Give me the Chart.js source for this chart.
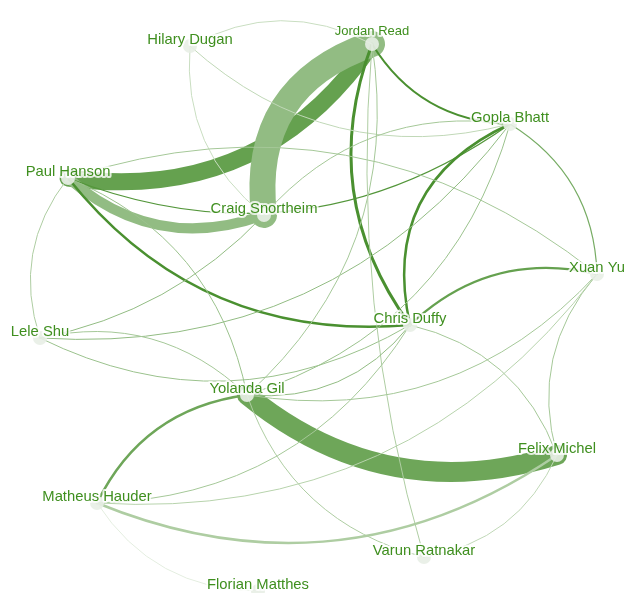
<!DOCTYPE html>
<html>
<head>
<meta charset="utf-8">
<script src="https://cdn.jsdelivr.net/npm/chart.js@4"></script>
<style>
  body { margin: 0; background: #fff; }
</style>
</head>
<body>
<canvas id="coauthorGraph" width="631" height="593"></canvas>
<script>
// people and where they sit
const names = ['Jordan Read', 'Hilary Dugan', 'Gopla Bhatt', 'Paul Hanson', 'Craig Snortheim', 'Xuan Yu',
  'Lele Shu', 'Chris Duffy', 'Yolanda Gil', 'Felix Michel', 'Matheus Hauder', 'Varun Ratnakar', 'Florian Matthes'];
const nodeX = [372, 190, 510, 68, 264, 597, 40, 410, 247, 557, 97, 424, 258];
const nodeY = [44, 46, 124, 178, 215, 274, 338, 325, 395, 455, 503, 557, 591];

// links: from, to, weight, strength (0..1)
const edgeFrom   = [3, 4, 3, 8, 3, 10, 10, 10, 3, 0, 2, 0, 7, 2, 1, 1, 1, 3, 3, 3, 4, 6, 6, 6, 0, 0, 4, 8, 8, 8, 7, 5, 9, 8, 10, 7];
const edgeTo     = [0, 0, 4, 9, 2, 8, 9, 12, 7, 7, 7, 2, 5, 5, 0, 4, 2, 5, 6, 8, 6, 2, 8, 7, 8, 11, 2, 7, 2, 5, 9, 9, 11, 11, 5, 10];
const edgeWeight = [17, 26, 10, 20, 1.3, 2.5, 2.5, 1, 2.5, 3, 2.5, 2, 2.2, 1.2, 1, 1, 1, 1, 1, 1, 1, 1, 1, 1, 1, 1, 1, 1, 1, 1, 1, 1, 1, 1, 1, 1];
const edgeShade  = [0.85, 0.6, 0.6, 0.8, 0.95, 0.8, 0.45, 0.15, 1, 1, 1, 1, 0.85, 0.75, 0.3, 0.3, 0.35, 0.5, 0.45, 0.55, 0.6, 0.6, 0.5, 0.55, 0.5, 0.45, 0.5, 0.6, 0.55, 0.5, 0.5, 0.5, 0.35, 0.45, 0.4, 0.5];
const edgeBend   = [1.15, -1.5, 1.1, 1, 1, -1, 1, 1, 1, 1, 1.5, 1, -1, -1, -1, 1, 1, -1, 1, -1, -0.6, 1, -1, 1, -1, 0.35, -1, 1, 1, 1, -1, 1, -1, 1, 1, -1];

const base = [74, 144, 48];
function shade(a) {
  const c = base.map(v => Math.round(255 - a * (255 - v)));
  return 'rgb(' + c.join(',') + ')';
}

const linkPlugin = {
  id: 'links',
  beforeDatasetsDraw(chart) {
    const ctx = chart.ctx;
    const xs = chart.scales.x, ys = chart.scales.y;
    ctx.save();
    ctx.lineCap = 'round';
    edgeFrom.forEach((s, i) => {
      const t = edgeTo[i];
      const x1 = xs.getPixelForValue(nodeX[s]), y1 = ys.getPixelForValue(nodeY[s]);
      const x2 = xs.getPixelForValue(nodeX[t]), y2 = ys.getPixelForValue(nodeY[t]);
      const dx = x2 - x1, dy = y2 - y1;
      const cx = (x1 + x2) / 2 + edgeBend[i] * 0.268 * (-dy);
      const cy = (y1 + y2) / 2 + edgeBend[i] * 0.268 * dx;
      ctx.beginPath();
      ctx.moveTo(x1, y1);
      ctx.quadraticCurveTo(cx, cy, x2, y2);
      ctx.strokeStyle = shade(edgeShade[i]);
      ctx.lineWidth = edgeWeight[i];
      ctx.stroke();
    });
    ctx.restore();
  },
  afterDatasetsDraw(chart) {
    const ctx = chart.ctx;
    const xs = chart.scales.x, ys = chart.scales.y;
    ctx.save();
    ctx.textAlign = 'center';
    ctx.textBaseline = 'middle';
    ctx.lineJoin = 'round';
    names.forEach((n, i) => {
      const small = n === 'Jordan Read';
      ctx.font = (small ? 13 : 14.8) + 'px Arial, "Liberation Sans", sans-serif';
      const x = xs.getPixelForValue(nodeX[i]);
      const y = ys.getPixelForValue(nodeY[i]) - (small ? 13 : 6);
      ctx.strokeStyle = 'rgba(255,255,255,0.8)';
      ctx.lineWidth = 4;
      ctx.strokeText(n, x, y);
      ctx.fillStyle = '#3f8f1f';
      ctx.fillText(n, x, y);
    });
    ctx.restore();
  }
};

new Chart(document.getElementById('coauthorGraph'), {
  type: 'scatter',
  data: {
    datasets: [{
      data: names.map((n, i) => ({ x: nodeX[i], y: nodeY[i] })),
      pointRadius: 7,
      pointBackgroundColor: 'rgba(232,238,230,0.9)',
      pointBorderWidth: 0,
      clip: false
    }]
  },
  options: {
    responsive: false,
    animation: false,
    layout: { padding: 0, autoPadding: false },
    plugins: { legend: { display: false }, tooltip: { enabled: false } },
    scales: {
      x: { type: 'linear', min: 0, max: 631, display: false },
      y: { type: 'linear', min: 0, max: 593, reverse: true, display: false }
    }
  },
  plugins: [linkPlugin]
});
</script>
</body>
</html>
